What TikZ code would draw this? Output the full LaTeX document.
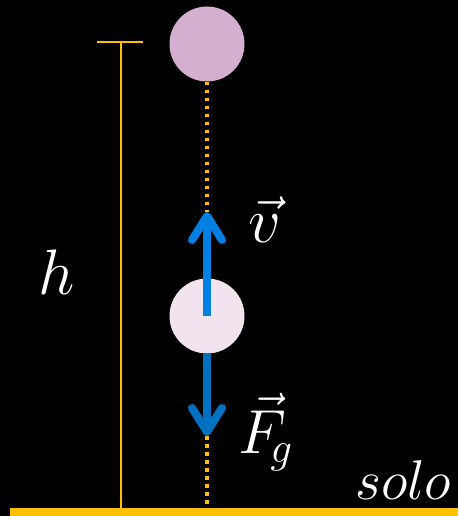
\documentclass[tikz,border=0pt]{standalone}
\usetikzlibrary{arrows.meta}
\definecolor{gold}{RGB}{255,192,0}
\definecolor{ballA}{RGB}{213,175,208}
\definecolor{ballB}{RGB}{241,228,239}
\definecolor{blueA}{RGB}{0,128,226}
\definecolor{blueB}{RGB}{0,112,192}
\tikzset{
  ball/.style={circle,minimum size=75pt,inner sep=0pt},
  dotline/.style={gold,line width=3.5pt,dash pattern=on 3.5pt off 4.5pt},
  vecarrow/.style={line width=8pt,-{Straight Barb[round,length=24pt,width=30pt,line width=8pt]}},
  lbl/.style={text=white,inner sep=0pt,font=\huge},
}
\begin{document}
\begin{tikzpicture}[x=1pt,y=-1pt]
\fill[black] (0,0) rectangle (458,516);
\useasboundingbox (0,0) rectangle (458,516);
% ground
\fill[gold] (10,508) rectangle (458,516);
% height marker
\coordinate (htop) at (121,42);
\coordinate (hbot) at (121,508);
\coordinate (tl) at (97,42);
\coordinate (tr) at (143,42);
\draw[gold,line width=1.5pt] (tl) -- (tr);
\draw[gold,line width=1.5pt] (htop) -- (hbot);
\node[lbl,scale=3.1] (h) at (57,272) {$h$};
% balls
\node[ball,fill=ballA] (top) at (207,44) {};
\node[ball,fill=ballB] (mid) at (207,316) {};
% dotted path
\coordinate (vtip) at (207,212);
\coordinate (ftip) at (207,436);
\coordinate (gnd) at (207,508);
\draw[dotline] (top.south) -- (vtip);
\draw[dotline] (ftip) -- (gnd);
% arrows
\draw[vecarrow,blueA] (mid.center) -- (vtip);
\draw[vecarrow,blueB] (mid.south) -- (ftip);
\node[lbl,scale=3.1] (v) at (265,220) {$\vec{v}$};
\node[lbl,scale=3.0] (F) at (266,432) {$\vec{F}_{\!g}$};
\node[lbl,scale=2.7,anchor=base east] (solo) at (452,499) {$solo$};
\end{tikzpicture}
\end{document}
